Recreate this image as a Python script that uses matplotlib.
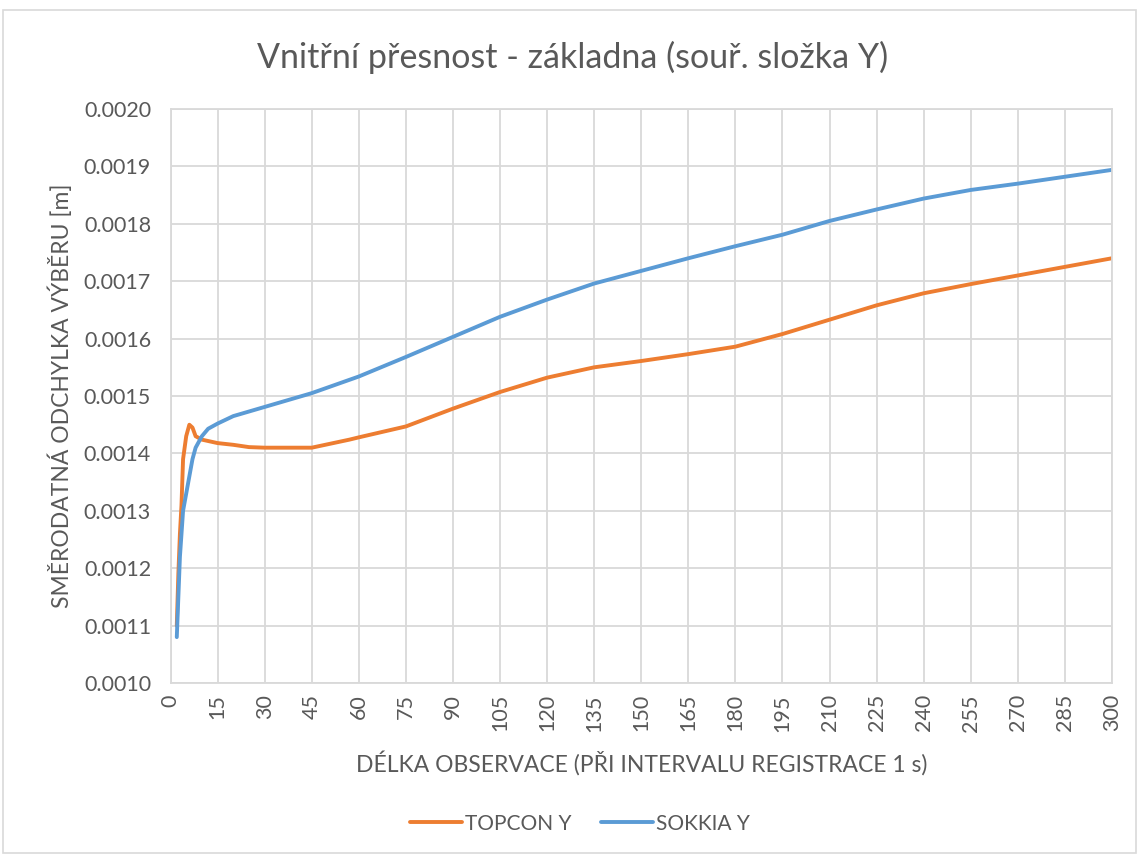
import matplotlib.pyplot as plt
from matplotlib.patches import Rectangle
import numpy as np

# values
topcon_x = [2, 2.5, 3, 3.5, 4, 5, 6, 7, 8, 10, 15, 20, 25, 30, 45, 57, 60, 75, 90, 105,
            120, 135, 150, 165, 180, 195, 210, 225, 240, 255, 270, 285, 300]
topcon_y = [0.00110, 0.00119, 0.00126, 0.00131, 0.00139, 0.00143, 0.00145, 0.001445,
            0.00143, 0.001424, 0.001418, 0.001415, 0.001411, 0.00141, 0.00141, 0.001424,
            0.001428, 0.001447, 0.001478, 0.001507, 0.001532, 0.00155, 0.001561, 0.001573,
            0.001586, 0.001608, 0.001633, 0.001658, 0.001679, 0.001695, 0.00171, 0.001725,
            0.00174]

sokkia_x = [2, 3, 4, 5, 6, 7, 8, 9, 10, 12, 15, 20, 30, 45, 60, 75, 90, 105, 120, 135,
            150, 165, 180, 195, 210, 225, 240, 255, 270, 285, 300]
sokkia_y = [0.00108, 0.00122, 0.00130, 0.00133, 0.00136, 0.00139, 0.00141, 0.00142,
            0.00143, 0.001443, 0.001452, 0.001465, 0.001481, 0.001505, 0.001534, 0.001568,
            0.001603, 0.001638, 0.001668, 0.001696, 0.001718, 0.00174, 0.001761, 0.001781,
            0.001805, 0.001825, 0.001844, 0.001859, 0.00187, 0.001882, 0.001894]

x_ticks = np.arange(0, 301, 15)
y_ticks = np.arange(0.0010, 0.00201, 0.0001)

txt = '#595959'
grid = '#d9d9d9'
plt.rcParams['font.family'] = ['Lato', 'DejaVu Sans']

fig = plt.figure(figsize=(11.39, 8.57), dpi=100)
fig.patches.append(Rectangle((0.003, 0.005), 0.994, 0.983, transform=fig.transFigure,
                             fill=False, edgecolor=grid, linewidth=1.2))
ax = fig.add_axes([0.1497, 0.203, 0.8266, 0.6698])

ax.plot(topcon_x, topcon_y, color='#ED7D31', linewidth=2.8, label='TOPCON Y',
        solid_capstyle='round')
ax.plot(sokkia_x, sokkia_y, color='#5B9BD5', linewidth=2.8, label='SOKKIA Y',
        solid_capstyle='round')

ax.set_xlim(0, 300)
ax.set_ylim(0.0010, 0.0020)
ax.set_xticks(x_ticks)
ax.set_yticks(y_ticks)
ax.set_yticklabels(['%.4f' % v for v in y_ticks])
ax.tick_params(axis='x', labelrotation=90, length=0, labelsize=15.5, colors=txt, pad=8)
ax.tick_params(axis='y', length=0, labelsize=15.5, colors=txt, pad=14)
ax.grid(True, color=grid, linewidth=1.3)
ax.set_axisbelow(True)
for s in ax.spines.values():
    s.set_color(grid)
    s.set_linewidth(1.3)

fig.text(0.503, 0.933, 'Vnitřní přesnost - základna (souř. složka Y)', fontsize=24.5,
         color=txt, ha='center', va='center')
ax.set_xlabel('DÉLKA OBSERVACE (PŘI INTERVALU REGISTRACE 1 s)', fontsize=16.5, color=txt,
              labelpad=14)
ax.set_ylabel('SMĚRODATNÁ ODCHYLKA VÝBĚRU [m]', fontsize=16.5, color=txt, labelpad=8)

leg = fig.legend(loc='center', bbox_to_anchor=(0.509, 0.039), ncol=2, frameon=False,
                 fontsize=15, handlelength=2.5, handletextpad=0.15, columnspacing=1.4)
for t in leg.get_texts():
    t.set_color(txt)

fig.savefig('out.png', dpi=100)
